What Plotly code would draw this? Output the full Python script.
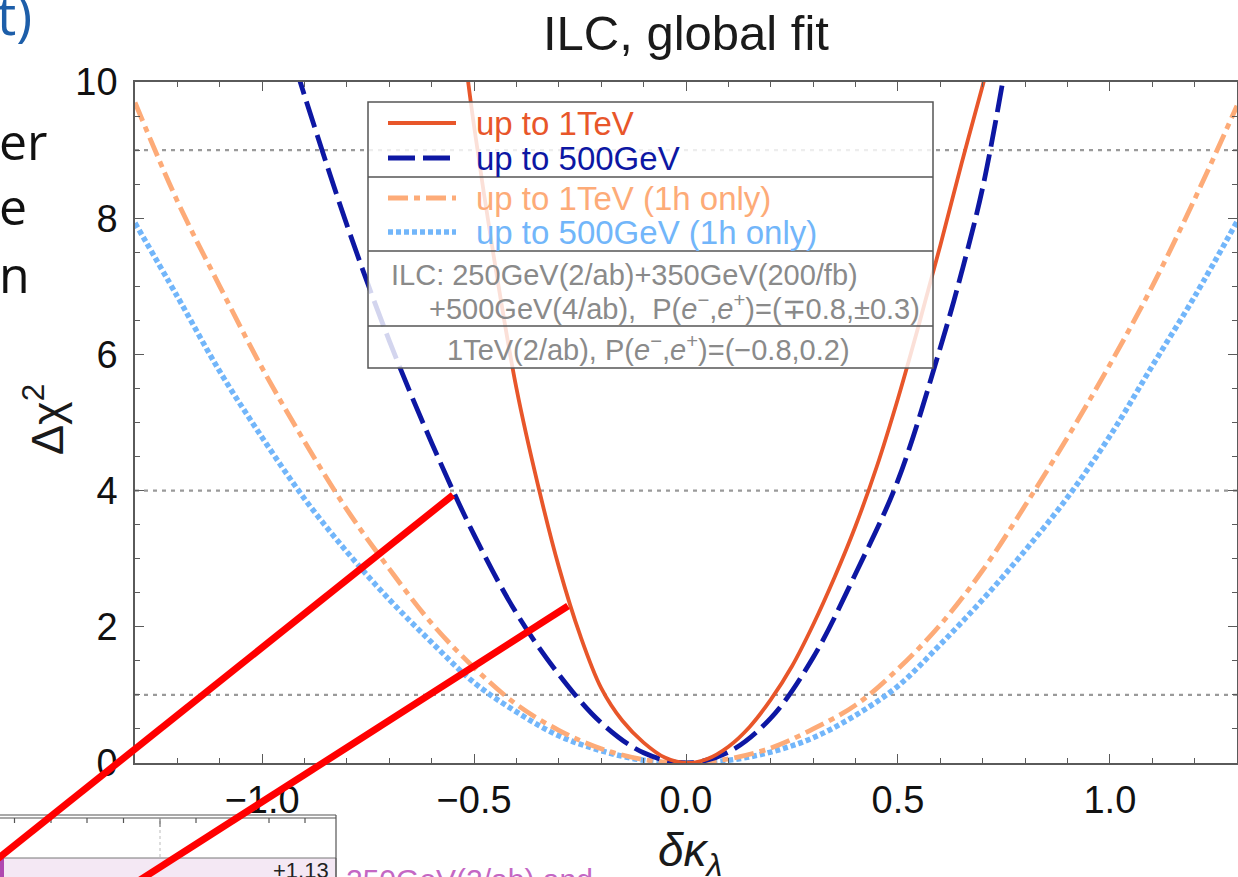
import plotly.graph_objects as go

# ---------------- data ----------------
NAMES = ["up to 1TeV", "up to 500GeV", "up to 1TeV (1h only)", "up to 500GeV (1h only)"]
COLORS = ["#E8562A", "#0D17A3", "#FDAB78", "#72B6FA"]
DASHES = ["solid", "27px,8px", "20px,6px,6px,6px", "5px,3px"]
WIDTHS = [3.8, 4.8, 4.8, 5.5]

x_1tev = [-0.52, -0.5, -0.45, -0.4, -0.35, -0.3, -0.25, -0.2, -0.15, -0.1, -0.05, 0.0,
          0.05, 0.1, 0.15, 0.2, 0.25, 0.3, 0.35, 0.4, 0.45, 0.5, 0.55, 0.6, 0.65, 0.7, 0.72]
y_1tev = [10.3, 9.35, 7.3, 5.5, 4.1, 2.88, 1.88, 1.1, 0.62, 0.3, 0.08, 0.0,
          0.06, 0.24, 0.53, 0.93, 1.42, 2.03, 2.72, 3.48, 4.35, 5.35, 6.45, 7.6, 8.8, 9.95, 10.4]

x_500 = [-0.92, -0.9, -0.8, -0.7, -0.6, -0.5, -0.4, -0.3, -0.2, -0.1, 0.0,
         0.1, 0.2, 0.3, 0.4, 0.5, 0.6, 0.65, 0.7, 0.75]
y_500 = [10.2, 9.8, 7.9, 6.2, 4.7, 3.35, 2.2, 1.3, 0.59, 0.15, 0.0,
         0.16, 0.66, 1.55, 2.78, 4.15, 6.1, 7.2, 8.45, 10.1]

x_1tev_1h = [-1.3, -1.2, -1.1, -1.0, -0.9, -0.8, -0.7, -0.6, -0.5, -0.4, -0.3, -0.2, -0.1, 0.0,
             0.1, 0.2, 0.3, 0.4, 0.5, 0.6, 0.7, 0.8, 0.9, 1.0, 1.1, 1.2, 1.3]
y_1tev_1h = [9.7, 8.25, 7.0, 5.8, 4.72, 3.72, 2.85, 2.05, 1.4, 0.86, 0.48, 0.21, 0.05, 0.0,
             0.06, 0.22, 0.5, 0.85, 1.38, 2.03, 2.83, 3.78, 4.78, 5.85, 7.0, 8.28, 9.65]

x_500_1h = [-1.3, -1.2, -1.1, -1.0, -0.9, -0.8, -0.7, -0.6, -0.5, -0.4, -0.3, -0.2, -0.1, 0.0,
            0.1, 0.2, 0.3, 0.4, 0.5, 0.6, 0.7, 0.8, 0.9, 1.0, 1.1, 1.2, 1.3]
y_500_1h = [7.93, 6.85, 5.75, 4.78, 3.88, 3.1, 2.4, 1.77, 1.18, 0.75, 0.4, 0.18, 0.04, 0.0,
            0.04, 0.16, 0.37, 0.7, 1.13, 1.74, 2.4, 3.12, 3.9, 4.8, 5.83, 6.85, 7.95]

SERIES_X = [x_1tev, x_500, x_1tev_1h, x_500_1h]
SERIES_Y = [y_1tev, y_500, y_1tev_1h, y_500_1h]

GRID_LEVELS = [1, 4, 9]
X_RANGE = [-1.3, 1.3]
Y_RANGE = [0, 10]
Y_TICKS = [0, 2, 4, 6, 8, 10]
X_TICKS = [-1.0, -0.5, 0.0, 0.5, 1.0]

TITLE = "ILC, global fit"
INFO_1 = "ILC: 250GeV(2/ab)+350GeV(200/fb)"
INFO_2 = "+500GeV(4/ab),\u00a0\u00a0P(<i>e</i><sup>−</sup>,<i>e</i><sup>+</sup>)=(∓0.8,±0.3)"
INFO_3 = "1TeV(2/ab), P(<i>e</i><sup>−</sup>,<i>e</i><sup>+</sup>)=(−0.8,0.2)"

# ---------------- geometry helpers ----------------
FW, FH = 1238, 877
L, R, T, B = 135, 1237, 82, 763
PW, PH = R - L, B - T


def pxx(x):
    return (x - L) / PW


def pxy(y):
    return (B - y) / PH


FONT = "Liberation Sans, Arial, Helvetica, sans-serif"
FRAME = "#5a5a5a"

fig = go.Figure()

# draw order: light curves first
for i in [3, 2, 1, 0]:
    fig.add_trace(go.Scatter(
        x=SERIES_X[i], y=SERIES_Y[i], mode="lines", name=NAMES[i],
        line=dict(color=COLORS[i], width=WIDTHS[i], dash=DASHES[i], shape="spline", smoothing=1.0),
        showlegend=False, hoverinfo="skip"))

shapes = []
annotations = []

# dotted reference lines
for g in GRID_LEVELS:
    shapes.append(dict(type="line", xref="paper", yref="y", x0=0, x1=1, y0=g, y1=g,
                       line=dict(color="#9a9a9a", width=2.2, dash="4px,5px"), layer="below"))

# ---------------- legend box ----------------
LB_L, LB_R = 368, 933
LB_T, LB_S1, LB_S2, LB_S3, LB_B = 102, 177, 251, 326, 368
shapes.append(dict(type="rect", xref="paper", yref="paper",
                   x0=pxx(LB_L), x1=pxx(LB_R), y0=pxy(LB_B), y1=pxy(LB_T),
                   fillcolor="rgba(255,255,255,0.82)", line=dict(color="#555555", width=1.5),
                   layer="above"))
for s in [LB_S1, LB_S2, LB_S3]:
    shapes.append(dict(type="line", xref="paper", yref="paper",
                       x0=pxx(LB_L), x1=pxx(LB_R), y0=pxy(s), y1=pxy(s),
                       line=dict(color="#555555", width=1.5), layer="above"))

ROW_Y = [123, 158, 198, 232]
for i in range(4):
    shapes.append(dict(type="line", xref="paper", yref="paper",
                       x0=pxx(388), x1=pxx(456), y0=pxy(ROW_Y[i]), y1=pxy(ROW_Y[i]),
                       line=dict(color=COLORS[i], width=WIDTHS[i], dash=DASHES[i]), layer="above"))
    annotations.append(dict(xref="paper", yref="paper", x=pxx(474), y=pxy(ROW_Y[i]),
                            xanchor="left", yanchor="middle", showarrow=False,
                            text=NAMES[i], font=dict(family=FONT, size=33, color=COLORS[i])))

annotations.append(dict(xref="paper", yref="paper", x=pxx(389), y=pxy(275),
                        xanchor="left", yanchor="middle", showarrow=False,
                        text=INFO_1, font=dict(family=FONT, size=29, color="#8a8a8a")))
annotations.append(dict(xref="paper", yref="paper", x=pxx(427), y=pxy(307),
                        xanchor="left", yanchor="middle", showarrow=False,
                        text=INFO_2, font=dict(family=FONT, size=29, color="#8a8a8a")))
annotations.append(dict(xref="paper", yref="paper", x=pxx(648), y=pxy(348),
                        xanchor="center", yanchor="middle", showarrow=False,
                        text=INFO_3, font=dict(family=FONT, size=29, color="#8a8a8a")))

# ---------------- titles ----------------
annotations.append(dict(xref="paper", yref="paper", x=pxx(686), y=pxy(33),
                        xanchor="center", yanchor="middle", showarrow=False,
                        text=TITLE, font=dict(family=FONT, size=49, color="#1a1a1a")))
annotations.append(dict(xref="paper", yref="paper", x=pxx(44), y=pxy(420),
                        xanchor="center", yanchor="middle", showarrow=False, textangle=-90,
                        text="Δχ<sup>2</sup>", font=dict(family=FONT, size=45, color="#1a1a1a")))
annotations.append(dict(xref="paper", yref="paper", x=pxx(690), y=pxy(853),
                        xanchor="center", yanchor="middle", showarrow=False,
                        text="<i>δκ</i><sub><i>λ</i></sub>", font=dict(family=FONT, size=46, color="#1a1a1a")))

# ---------------- slide context (cropped) ----------------
SLIDE_FONT = "Open Sans, Noto Sans, sans-serif"
annotations.append(dict(xref="paper", yref="paper", x=pxx(-5), y=pxy(14),
                        xanchor="left", yanchor="middle", showarrow=False,
                        text="t)", font=dict(family=SLIDE_FONT, size=54, color="#1D5EA9")))
for txt, yy in [("er", 141), ("e", 206), ("n", 274)]:
    annotations.append(dict(xref="paper", yref="paper", x=pxx(-3), y=pxy(yy),
                            xanchor="left", yanchor="middle", showarrow=False,
                            text=txt, font=dict(family=SLIDE_FONT, size=50, color="#111111")))

# bottom-left table fragment
shapes.append(dict(type="rect", xref="paper", yref="paper", x0=pxx(0), x1=pxx(336),
                   y0=pxy(880), y1=pxy(858), fillcolor="#F4E8F4",
                   line=dict(color="#777777", width=1)))
shapes.append(dict(type="rect", xref="paper", yref="paper", x0=pxx(0), x1=pxx(4),
                   y0=pxy(880), y1=pxy(858), fillcolor="#B048B0", line=dict(width=0)))
for yy in [815, 818]:
    shapes.append(dict(type="line", xref="paper", yref="paper", x0=pxx(0), x1=pxx(336),
                       y0=pxy(yy), y1=pxy(yy), line=dict(color="#555555", width=1.2)))
shapes.append(dict(type="line", xref="paper", yref="paper", x0=pxx(336), x1=pxx(336),
                   y0=pxy(815), y1=pxy(880), line=dict(color="#555555", width=1.2)))
for tx in [14.5, 51, 87, 123.5, 160, 196, 232.5, 269, 305]:
    ln = 9 if abs(tx - 160) < 1 else 5
    shapes.append(dict(type="line", xref="paper", yref="paper", x0=pxx(tx), x1=pxx(tx),
                       y0=pxy(818), y1=pxy(818 + ln), line=dict(color="#555555", width=1.2)))
shapes.append(dict(type="line", xref="paper", yref="paper", x0=pxx(160), x1=pxx(160),
                   y0=pxy(818), y1=pxy(858), line=dict(color="#bbbbbb", width=1, dash="3px,3px")))
annotations.append(dict(xref="paper", yref="paper", x=pxx(331), y=pxy(871),
                        xanchor="right", yanchor="middle", showarrow=False,
                        text="+1.13", font=dict(family=FONT, size=22, color="#222222")))
annotations.append(dict(xref="paper", yref="paper", x=pxx(344), y=pxy(879),
                        xanchor="left", yanchor="middle", showarrow=False,
                        text="250GeV(2/ab) and", font=dict(family=FONT, size=30, color="#C467C4")))

# red annotation lines
shapes.append(dict(type="line", xref="paper", yref="paper", x0=pxx(-2), x1=pxx(453),
                   y0=pxy(858.5), y1=pxy(495), line=dict(color="#FF0000", width=7), layer="above"))
shapes.append(dict(type="line", xref="paper", yref="paper", x0=pxx(140), x1=pxx(568),
                   y0=pxy(880), y1=pxy(606), line=dict(color="#FF0000", width=7), layer="above"))

axis_common = dict(showline=True, linecolor=FRAME, linewidth=1.5, mirror="ticks",
                   ticks="inside", ticklen=9, tickwidth=1.3, tickcolor=FRAME,
                   showgrid=False, zeroline=False,
                   tickfont=dict(family=FONT, size=38, color="#111111"))

fig.update_layout(
    width=FW, height=FH,
    margin=dict(l=L, r=FW - R, t=T, b=FH - B, autoexpand=False),
    paper_bgcolor="white", plot_bgcolor="white",
    shapes=shapes, annotations=annotations,
    xaxis=dict(range=X_RANGE, tickvals=X_TICKS, tickformat=".1f",
               minor=dict(dtick=0.1, ticks="inside", ticklen=5, tickcolor=FRAME, tickwidth=1.2, showgrid=False),
               ticklabelstandoff=3, **axis_common),
    yaxis=dict(range=Y_RANGE, tickvals=Y_TICKS,
               minor=dict(dtick=0.5, ticks="inside", ticklen=5, tickcolor=FRAME, tickwidth=1.2, showgrid=False),
               ticklabelstandoff=8, **axis_common),
    showlegend=False,
)

fig.write_html("out.html")
